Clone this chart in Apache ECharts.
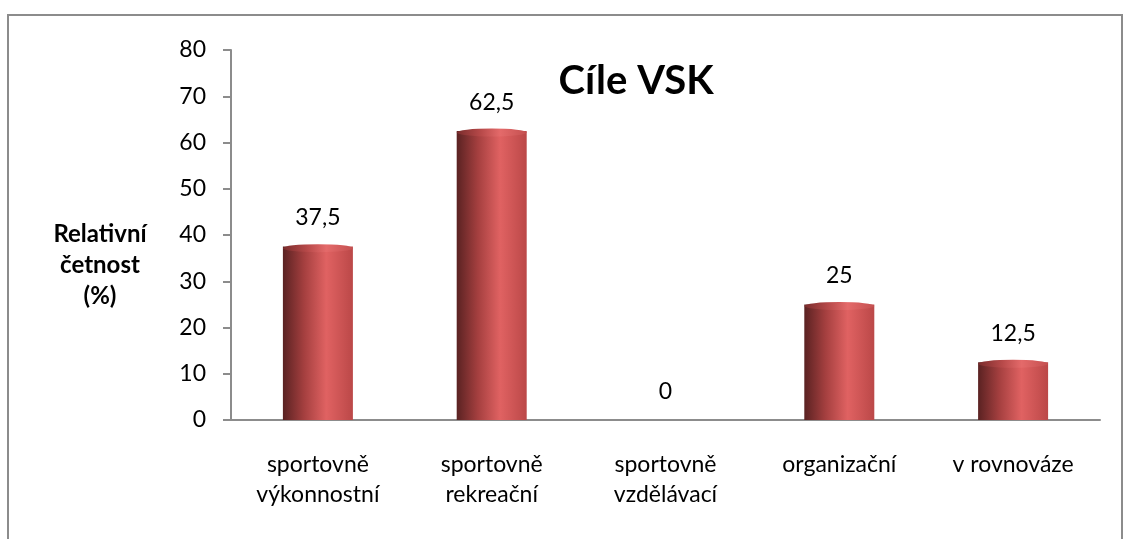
<!DOCTYPE html>
<html>
<head>
<meta charset="utf-8">
<script src="https://cdn.jsdelivr.net/npm/echarts@6/dist/echarts.min.js"></script>
<style>
  html, body { margin: 0; padding: 0; background: #fff; }
  #chart { width: 1130px; height: 539px; }
</style>
</head>
<body>
<div id="chart"></div>
<script>
// kategorie a hodnoty (relativní četnost v %)
const categories = [
  "sportovně\nvýkonnostní",
  "sportovně\nrekreační",
  "sportovně\nvzdělávací",
  "organizační",
  "v rovnováze",
];
const values = [37.5, 62.5, 0, 25, 12.5];
const yTicks = [0, 10, 20, 30, 40, 50, 60, 70, 80];

const font = "Lato, 'Open Sans', sans-serif";

const chart = echarts.init(document.getElementById("chart"));

const bodyColor = new echarts.graphic.LinearGradient(0, 0, 1, 0, [
  { offset: 0, color: "#5a2222" },
  { offset: 0.3, color: "#a43f3f" },
  { offset: 0.62, color: "#e06262" },
  { offset: 1, color: "#bb4848" },
]);
const capColor = new echarts.graphic.LinearGradient(0, 0, 1, 0, [
  { offset: 0, color: "#7a2c2c" },
  { offset: 0.35, color: "#b84a4a" },
  { offset: 0.62, color: "#e46a6a" },
  { offset: 1, color: "#c45050" },
]);

chart.setOption({
  animation: false,
  title: {
    text: "Cíle VSK",
    left: 631,
    top: 56,
    textAlign: "center",
    textStyle: { fontFamily: font, fontSize: 40, fontWeight: "bold", color: "#000" },
  },
  graphic: [
    {
      type: "rect",
      shape: { x: 8, y: 15, width: 1114, height: 540 },
      style: { fill: "none", stroke: "#8c8c8c", lineWidth: 2 },
      silent: true,
    },
    {
      type: "text",
      x: 100,
      y: 219,
      style: {
        text: "Relativní\nčetnost\n(%)",
        font: "bold 24px " + font,
        fill: "#000",
        align: "center",
        verticalAlign: "top",
        lineHeight: 31,
      },
    },
  ],
  grid: { left: 231, right: 30, top: 50, bottom: 119 },
  xAxis: {
    type: "category",
    data: categories,
    axisLine: { lineStyle: { color: "#8c8c8c", width: 2 } },
    axisTick: { inside: true, length: 8, lineStyle: { color: "#8c8c8c", width: 2 } },
    axisLabel: {
      fontFamily: font,
      fontSize: 23,
      color: "#000",
      lineHeight: 30,
      margin: 30,
      interval: 0,
    },
  },
  yAxis: {
    type: "value",
    min: 0,
    max: 80,
    interval: 10,
    splitLine: { show: false },
    axisLine: { show: true, lineStyle: { color: "#8c8c8c", width: 2 } },
    axisTick: { show: true, length: 8, lineStyle: { color: "#8c8c8c", width: 2 } },
    axisLabel: {
      fontFamily: font,
      fontSize: 23,
      color: "#000",
      margin: 25,
      formatter: (v) => (yTicks.includes(v) ? String(v) : ""),
    },
  },
  series: [
    {
      type: "bar",
      data: values,
      barWidth: 70,
      itemStyle: { color: bodyColor },
      label: {
        show: true,
        position: "top",
        distance: 17,
        fontFamily: font,
        fontSize: 23,
        color: "#000",
        formatter: (p) => String(p.value).replace(".", ","),
      },
      z: 2,
    },
    {
      type: "pictorialBar",
      data: values.map((v) => (v > 0 ? v : "-")),
      symbol: "circle",
      symbolSize: [70, 8],
      symbolPosition: "end",
      symbolOffset: [0, "-30%"],
      itemStyle: { color: capColor },
      z: 3,
      silent: true,
    },
  ],
});
</script>
</body>
</html>
